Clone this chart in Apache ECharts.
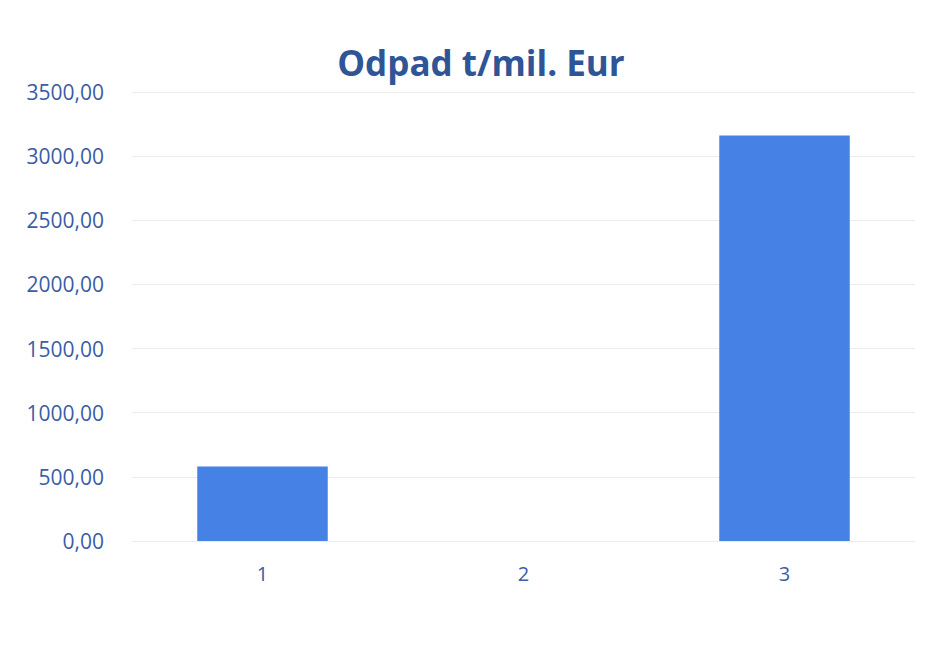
<!DOCTYPE html>
<html>
<head>
<meta charset="utf-8">
<script src="https://cdn.jsdelivr.net/npm/echarts@6/dist/echarts.min.js"></script>
<style>
  html, body { margin: 0; padding: 0; background: #fff; }
  #chart { width: 939px; height: 645px; }
</style>
</head>
<body>
<div id="chart"></div>
<script>
const categories = ['1', '2', '3'];
const wasteValues = [580, 0, 3160];
const axisMin = 0;
const axisMax = 3500;
const axisStep = 500;

const textBlue = '#3a5da6';

const chart = echarts.init(document.getElementById('chart'), null, {renderer: 'svg'});
chart.setOption({
  animation: false,
  title: {
    text: 'Odpad t/mil. Eur',
    left: 476,
    textAlign: 'center',
    top: 40,
    textStyle: {
      fontFamily: 'Open Sans',
      fontWeight: 'bold',
      fontSize: 35,
      color: '#2f5597'
    }
  },
  grid: {
    left: 132,
    right: 24,
    top: 92,
    bottom: 104
  },
  xAxis: {
    type: 'category',
    data: categories,
    axisLine: {show: false},
    axisTick: {show: false},
    axisLabel: {
      margin: 22,
      fontFamily: 'Open Sans',
      fontSize: 20,
      color: textBlue
    }
  },
  yAxis: {
    type: 'value',
    min: axisMin,
    max: axisMax,
    interval: axisStep,
    axisLine: {show: false},
    axisTick: {show: false},
    splitLine: {lineStyle: {color: '#ececec', width: 1}},
    axisLabel: {
      margin: 28,
      fontFamily: 'Open Sans',
      fontSize: 21,
      color: textBlue,
      formatter: v => v.toFixed(2).replace('.', ',')
    }
  },
  series: [
    {
      type: 'bar',
      data: wasteValues,
      barWidth: '50%',
      itemStyle: {color: '#4682e6'}
    }
  ]
});
</script>
</body>
</html>
